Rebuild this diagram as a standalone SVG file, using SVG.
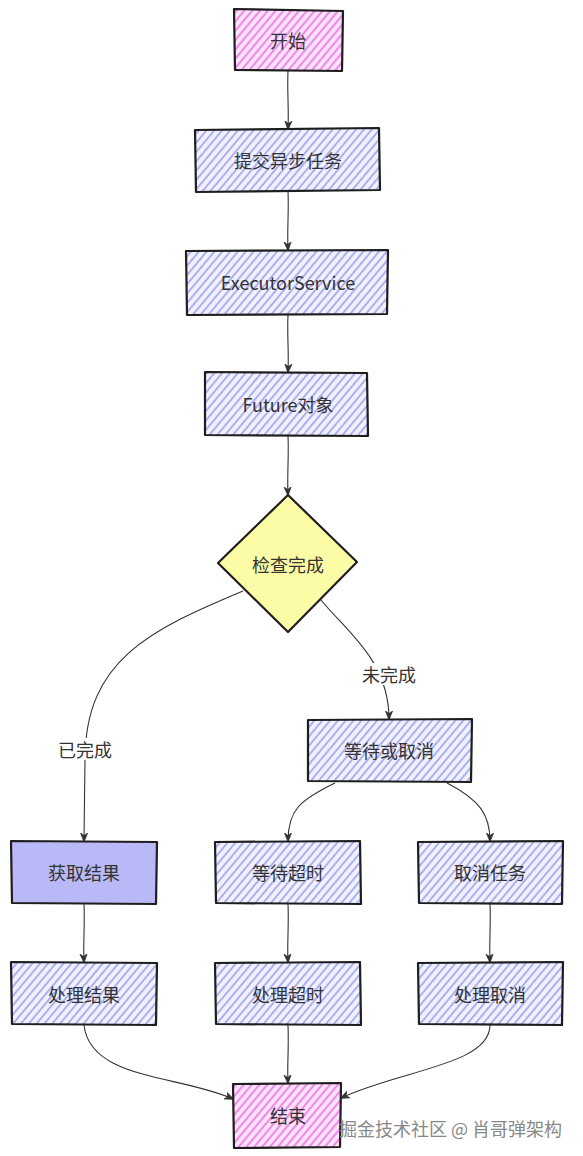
<svg xmlns="http://www.w3.org/2000/svg" width="583" height="1156" viewBox="0 0 583 1156">
<defs>
<pattern id="hPink" patternUnits="userSpaceOnUse" width="6" height="6" patternTransform="rotate(40)">
<rect width="6" height="6" fill="#fde6fb"/>
<line x1="2" y1="0" x2="2" y2="6" stroke="#f28ae9" stroke-width="2.2"/>
</pattern>
<pattern id="hBlue" patternUnits="userSpaceOnUse" width="6" height="6" patternTransform="rotate(40)">
<rect width="6" height="6" fill="#f2f2fe"/>
<line x1="2" y1="0" x2="2" y2="6" stroke="#acacf4" stroke-width="1.9"/>
</pattern>
<pattern id="hYellow" patternUnits="userSpaceOnUse" width="5" height="5" patternTransform="rotate(40)">
<rect width="5" height="5" fill="#fdfd9c"/>
<line x1="2" y1="0" x2="2" y2="5" stroke="#fbfbc8" stroke-width="1.2"/>
</pattern>
<marker id="arr" viewBox="0 0 10 10" refX="9" refY="5" markerWidth="9" markerHeight="9" orient="auto-start-reverse" markerUnits="userSpaceOnUse">
<path d="M0,1 L10,5 L0,9 L3,5 Z" fill="#333" stroke="#333" stroke-width="0.8"/>
</marker>
</defs>
<style>
.box{stroke:#1e1e1e;stroke-width:2.2;stroke-linejoin:round}
.pink{fill:url(#hPink)}
.blue{fill:url(#hBlue)}
.solid{fill:#b9b9f7}
.yellow{fill:url(#hYellow)}
.lbl{font-family:"Noto Sans CJK SC","Noto Sans",sans-serif;font-size:18px;fill:#333;text-anchor:middle;dominant-baseline:central}
.edge{fill:none;stroke:#333;stroke-width:1.1;marker-end:url(#arr)}
.elbl{font-family:"Noto Sans CJK SC","Noto Sans",sans-serif;font-size:18px;fill:#333;text-anchor:middle;dominant-baseline:central}
.wm{font-family:"Noto Sans CJK SC","Noto Sans",sans-serif;font-size:18px;fill:#888;text-anchor:start;dominant-baseline:central}
</style>
<g id="connectors">
<path class="edge" d="M288,71 C287,90 289,110 288,129"/>
<path class="edge" d="M288,191 C289,210 287,230 288,250"/>
<path class="edge" d="M288,315 C287,335 289,352 288,372"/>
<path class="edge" d="M288,436 C289,455 287,475 288,495"/>
<path class="edge" d="M243,591 C150,630 85,660 85,760 L84,841"/>
<path class="edge" d="M321,600 C345,630 389,660 389,719"/>
<path class="edge" d="M335,783 C300,800 288,810 288,841"/>
<path class="edge" d="M447,783 C480,800 490,815 490,841"/>
<path class="edge" d="M84,904 C85,925 83,945 84,962"/>
<path class="edge" d="M288,904 C289,925 287,945 288,962"/>
<path class="edge" d="M490,904 C491,925 489,945 490,962"/>
<path class="edge" d="M84,1025 C90,1080 180,1075 233,1099"/>
<path class="edge" d="M288,1025 C289,1050 287,1065 288,1083"/>
<path class="edge" d="M490,1025 C490,1065 400,1070 341,1098"/>
<rect x="58" y="738" width="54" height="22" fill="#fff"/>
<text class="elbl" x="85" y="749">已完成</text>
<rect x="362" y="663" width="54" height="22" fill="#fff"/>
<text class="elbl" x="389" y="674">未完成</text>
</g>
<g id="n_start">
<path class="box pink" d="M234,9 L343,11 L342,71 L235,70 Z"/>
<text class="lbl" x="288" y="40">开始</text>
</g>
<g id="n_submit">
<path class="box blue" d="M195,130 L379,128 L380,190 L196,192 Z"/>
<text class="lbl" x="288" y="160">提交异步任务</text>
</g>
<g id="n_executor">
<path class="box blue" d="M186,251 L388,250 L387,314 L187,315 Z"/>
<text class="lbl" x="288" y="282" font-family="Noto Sans, sans-serif">ExecutorService</text>
</g>
<g id="n_future">
<path class="box blue" d="M205,372 L367,373 L368,436 L205,435 Z"/>
<text class="lbl" x="288" y="404">Future对象</text>
</g>
<g id="n_check">
<path class="box yellow" d="M288,495 L357,562 L288,632 L218,563 Z"/>
<text class="lbl" x="288" y="564">检查完成</text>
</g>
<g id="n_wait_or_cancel">
<path class="box blue" d="M308,720 L472,719 L471,782 L308,781 Z"/>
<text class="lbl" x="389" y="750">等待或取消</text>
</g>
<g id="n_get_result">
<path class="box solid" d="M11,841 L157,842 L156,904 L12,903 Z"/>
<text class="lbl" x="84" y="872">获取结果</text>
</g>
<g id="n_wait_timeout">
<path class="box blue" d="M215,842 L360,841 L361,904 L216,903 Z"/>
<text class="lbl" x="288" y="872">等待超时</text>
</g>
<g id="n_cancel_task">
<path class="box blue" d="M418,842 L563,841 L562,904 L419,903 Z"/>
<text class="lbl" x="490" y="872">取消任务</text>
</g>
<g id="n_handle_result">
<path class="box blue" d="M11,962 L157,963 L156,1025 L12,1024 Z"/>
<text class="lbl" x="84" y="994">处理结果</text>
</g>
<g id="n_handle_timeout">
<path class="box blue" d="M215,963 L360,962 L361,1025 L216,1024 Z"/>
<text class="lbl" x="288" y="994">处理超时</text>
</g>
<g id="n_handle_cancel">
<path class="box blue" d="M418,963 L563,962 L562,1025 L419,1024 Z"/>
<text class="lbl" x="490" y="994">处理取消</text>
</g>
<g id="n_end">
<path class="box pink" d="M233,1084 L341,1083 L340,1147 L234,1148 Z"/>
<text class="lbl" x="288" y="1115">结束</text>
</g>
<text class="wm" x="339" y="1128">掘金技术社区 @ 肖哥弹架构</text>
</svg>
